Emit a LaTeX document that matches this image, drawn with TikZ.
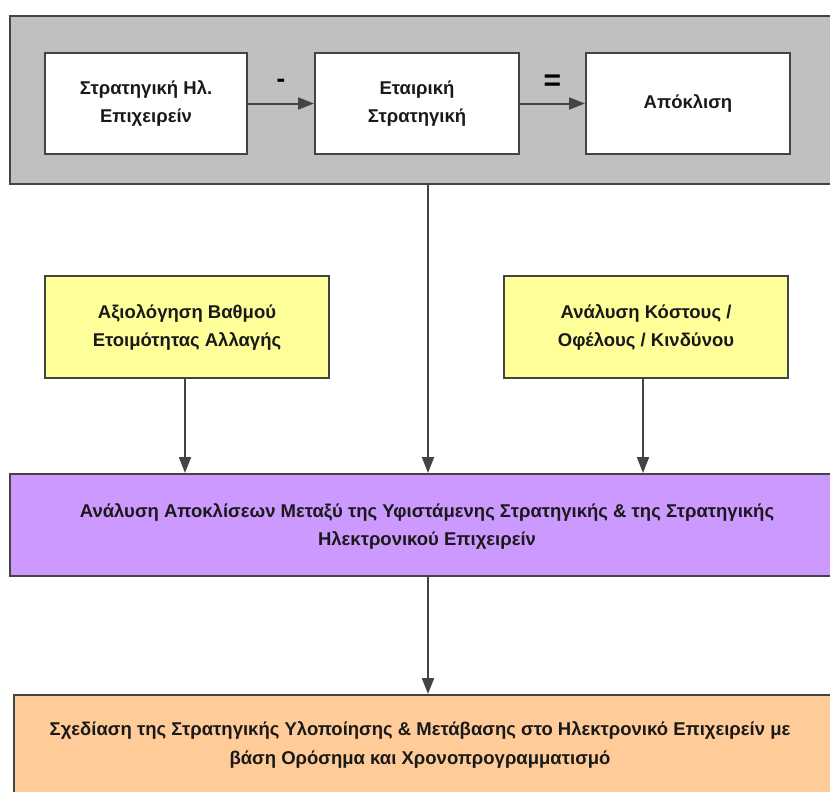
\documentclass[tikz,border=0pt]{standalone}
\usepackage{fontspec}
\setmainfont{Liberation Sans}
\usetikzlibrary{arrows.meta}
\definecolor{panelgray}{HTML}{C0C0C0}
\definecolor{boxyellow}{HTML}{FFFF99}
\definecolor{boxpurple}{HTML}{CC99FF}
\definecolor{boxorange}{HTML}{FFCC99}
\definecolor{edgegray}{HTML}{444444}
\begin{document}
\begin{tikzpicture}[x=1pt,y=-1pt,
  label/.style={font=\fontsize{18.5}{28}\selectfont\bfseries, align=center, text=black!90},
  box/.style={draw=edgegray, line width=2pt, inner sep=0pt},
  conn/.style={draw=edgegray, line width=2pt, -{Triangle[length=16pt,width=12pt]}}]
\useasboundingbox (0,0) rectangle (830,792);
\clip (0,0) rectangle (830,792);
\fill[white] (0,0) rectangle (830,792);

% top panel with the three white boxes
\node[box, fill=panelgray, minimum width=832pt, minimum height=168pt, anchor=north west] (panel) at (9,15) {};
\node[box, label, fill=white, minimum width=202pt, minimum height=101pt, anchor=north west] (ebiz) at (44,52) {Στρατηγική Ηλ.\\Επιχειρείν};
\node[box, label, fill=white, minimum width=204pt, minimum height=101pt, anchor=north west] (corp) at (314,52) {Εταιρική\\Στρατηγική};
\node[box, label, fill=white, minimum width=204pt, minimum height=101pt, anchor=north west] (gap) at (585,52) {Απόκλιση};
\draw[conn] (ebiz) -- node[above=12pt, font=\fontsize{26}{26}\selectfont\bfseries] {-} (corp);
\draw[conn] (corp) -- node[above=9pt, font=\fontsize{30}{30}\selectfont\bfseries] {=} (gap);

% assessment boxes
\node[box, label, fill=boxyellow, minimum width=284pt, minimum height=102pt, anchor=north west] (ready) at (44,275) {Αξιολόγηση Βαθμού\\Ετοιμότητας Αλλαγής};
\node[box, label, fill=boxyellow, minimum width=284pt, minimum height=102pt, anchor=north west] (cost) at (503,275) {Ανάλυση Κόστους /\\Οφέλους / Κινδύνου};

% gap analysis
\node[box, fill=boxpurple, minimum width=830pt, minimum height=102pt, anchor=north west] (analysis) at (9,473) {};
\node[label] (atext) at (427,526) {Ανάλυση Αποκλίσεων Μεταξύ της Υφιστάμενης Στρατηγικής \& της Στρατηγικής\\Ηλεκτρονικού Επιχειρείν};

% implementation plan
\node[box, fill=boxorange, minimum width=830pt, minimum height=120pt, anchor=north west] (plan) at (13,694) {};
\node[label, font=\fontsize{18.5}{29.5}\selectfont\bfseries] (ptext) at (420,745) {Σχεδίαση της Στρατηγικής Υλοποίησης \& Μετάβασης στο Ηλεκτρονικό Επιχειρείν με\\βάση Ορόσημα και Χρονοπρογραμματισμό};

% connectors
\coordinate (panelout) at (428,183);
\coordinate (analysisin) at (428,473);
\coordinate (analysisout) at (428,575);
\coordinate (planin) at (428,694);
\coordinate (readyin) at (185,473);
\coordinate (costin) at (643,473);
\draw[conn] (panelout) -- (analysisin);
\draw[conn] (ready.south -| readyin) -- (readyin);
\draw[conn] (cost.south -| costin) -- (costin);
\draw[conn] (analysisout) -- (planin);
\end{tikzpicture}
\end{document}
